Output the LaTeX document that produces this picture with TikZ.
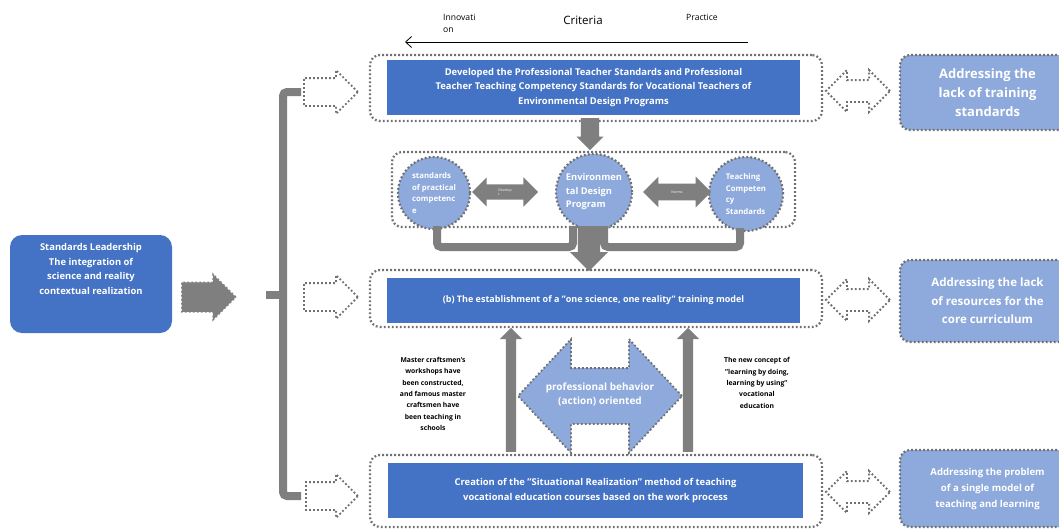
\documentclass[tikz,border=0pt]{standalone}
\usepackage{fontspec}
\setmainfont{Open Sans}
\usetikzlibrary{shapes.arrows,shapes.geometric,arrows.meta}
\definecolor{mainblue}{HTML}{4472C4}
\definecolor{lightblue}{HTML}{8EA9DB}
\definecolor{arrgray}{HTML}{7F7F7F}
\definecolor{dotgray}{HTML}{707070}
\begin{document}
\begin{tikzpicture}[x=1pt,y=-1pt,
  dotline/.style={draw=dotgray, line width=2.2pt, dash pattern=on 1.8pt off 2.2pt},
  frame/.style={dotline, rounded corners=10pt, inner sep=0pt},
  bluebox/.style={fill=mainblue, text=white, align=center, inner sep=0pt},
  circ/.style={circle, fill=lightblue, dotline, text=white, align=left, inner sep=0pt, font=\bfseries\fontsize{7.8}{11.5}\selectfont},
  hollowarrow/.style={single arrow, dotline, line width=1.8pt, fill=white, inner xsep=0pt, inner ysep=13pt, single arrow head extend=8pt, single arrow tip angle=90, anchor=tail},
  hollowdouble/.style={double arrow, dotline, line width=1.8pt, fill=white, inner xsep=0pt, inner ysep=10pt, double arrow head extend=10pt, double arrow tip angle=90},
  grayarrow/.style={single arrow, fill=arrgray, draw=none, inner xsep=0pt, single arrow tip angle=90, anchor=tail},
  graydouble/.style={double arrow, fill=arrgray, draw=none, inner xsep=0pt, double arrow tip angle=90},
  brack/.style={draw=arrgray, line width=8pt, rounded corners=4pt},
  sidebox/.style={rectangle, rounded corners=10pt, fill=lightblue, dotline, text=white, align=center, inner sep=0pt},
  smalltext/.style={align=center, text=black, font=\bfseries\fontsize{6.8}{11.4}\selectfont, inner sep=0pt}
]
\useasboundingbox (0,0) rectangle (1059,530);
\begin{scope}
\clip (0,0) rectangle (1059,530);
\fill[white] (0,0) rectangle (1059,530);

% top labels
\node[anchor=west, align=left, inner sep=0pt, font=\fontsize{8.6}{12}\selectfont] (innov) at (443,23) {Innovati\\on};
\node[inner sep=0pt, font=\fontsize{11.5}{14}\selectfont] (crit) at (583,20) {Criteria};
\node[inner sep=0pt, font=\fontsize{8.6}{12}\selectfont] (prac) at (702,17) {Practice};
\coordinate (aR) at (748,42);
\coordinate (aL) at (405,42);
\draw[line width=0.8pt, -{Straight Barb[length=6pt,width=11pt]}] (aR) -- (aL);

% frame 1
\node[frame, minimum width=452pt, minimum height=66pt] (f1) at (596,88) {};
\node[bluebox, minimum width=413pt, minimum height=55pt, font=\bfseries\fontsize{9.4}{14.5}\selectfont] (b1) at (593.5,87.5)
  {Developed the Professional Teacher Standards and Professional\\Teacher Teaching Competency Standards for Vocational Teachers of\\Environmental Design Programs};

% down arrow 1
\node[grayarrow, rotate=-90, minimum height=32pt, inner ysep=9pt, single arrow head extend=4.5pt] (d1) at (590,118) {};

% frame 2 with circles
\node[frame, minimum width=403pt, minimum height=75pt] (f2) at (593.5,189.5) {};
\node[circ, minimum size=72pt] (cL) at (434,193) {standards\\of practical\\competenc\\e};
\node[circ, minimum size=76pt, font=\bfseries\fontsize{9.3}{13.5}\selectfont] (cM) at (594,192) {Environmen\\tal Design\\Program};
\node[circ, minimum size=74pt] (cR) at (746,194) {Teaching\\Competen\\cy\\Standards};
\node[graydouble, minimum height=66pt, inner ysep=4pt, double arrow head extend=7pt, font=\fontsize{3.5}{4}\selectfont, text=white, align=left] (dL) at (505,192) {Develop\\t};
\node[graydouble, minimum height=68pt, inner ysep=7pt, double arrow head extend=7pt, font=\fontsize{3.5}{4}\selectfont, text=white] (dR) at (677,192) {Norms};

% brackets below circles
\coordinate (bl1) at (437,226);
\coordinate (bl2) at (437,247);
\coordinate (bl3) at (573,247);
\coordinate (bl4) at (573,226);
\coordinate (br1) at (604,226);
\coordinate (br2) at (604,247);
\coordinate (br3) at (740,247);
\coordinate (br4) at (740,228);
\draw[brack] (bl1) -- (bl2) -- (bl3) -- (bl4);
\draw[brack] (br1) -- (br2) -- (br3) -- (br4);

% big down arrow
\node[grayarrow, rotate=-90, minimum height=45pt, inner ysep=11pt, single arrow head extend=8pt] (d2) at (589,226) {};

% frame 3
\node[frame, minimum width=452pt, minimum height=57pt] (f3) at (596,298.5) {};
\node[bluebox, minimum width=413pt, minimum height=45pt, font=\bfseries\fontsize{9}{12}\selectfont] (b3) at (593.5,300.5)
  {(b) The establishment of a "one science, one reality" training model};

% up arrows
\node[grayarrow, rotate=90, minimum height=124pt, inner ysep=5pt, single arrow head extend=6pt] (uL) at (511,452) {};
\node[grayarrow, rotate=90, minimum height=124pt, inner ysep=5pt, single arrow head extend=6pt] (uR) at (688,452) {};

% big double arrow
\node[double arrow, fill=lightblue, dotline, line width=1.8pt, minimum height=164pt, inner xsep=0pt, inner ysep=27pt, double arrow head extend=29pt, double arrow tip angle=94] (big) at (600,396) {};
\node[text=white, align=center, inner sep=0pt, font=\bfseries\fontsize{10}{14}\selectfont] (bigt) at (600,394) {professional behavior\\(action) oriented};

% side texts
\node[smalltext] (tL) at (433,394) {Master craftsmen's\\workshops have\\been constructed,\\and famous master\\craftsmen have\\been teaching in\\schools};
\node[smalltext] (tR) at (757,383) {The new concept of\\"learning by doing,\\learning by using"\\vocational\\education};

% frame 4
\node[frame, minimum width=452pt, minimum height=72pt] (f4) at (596,491) {};
\node[bluebox, minimum width=415pt, minimum height=55pt, font=\bfseries\fontsize{9.4}{15}\selectfont] (b4) at (595.5,490.5)
  {Creation of the "Situational Realization" method of teaching\\vocational education courses based on the work process};

% left box
\node[rectangle, rounded corners=12pt, fill=mainblue, minimum width=162pt, minimum height=98pt, inner sep=0pt] (lb) at (91,284) {};
\node[anchor=north, text=white, align=center, inner sep=0pt, font=\bfseries\fontsize{9.4}{14.8}\selectfont] (lbt) at (91,243)
  {Standards Leadership\\The integration of\\science and reality\\contextual realization};
\node[grayarrow, dotline, line width=1.5pt, draw=arrgray, minimum height=54pt, inner ysep=14pt, single arrow head extend=8pt] (ga) at (181,297) {};

% bracket
\coordinate (k1) at (301,92);
\coordinate (k2) at (283,92);
\coordinate (k3) at (283,496);
\coordinate (k4) at (301,496);
\coordinate (ks1) at (266,295);
\coordinate (ks2) at (283,295);
\draw[brack] (k1) -- (k2) -- (k3) -- (k4);
\draw[draw=arrgray, line width=8pt] (ks1) -- (ks2);

% hollow arrows
\node[hollowarrow, minimum height=54pt] (h1) at (303,92) {};
\node[hollowarrow, minimum height=54pt] (h2) at (303,297) {};
\node[hollowarrow, minimum height=52pt] (h3) at (305,496) {};

% right hollow double arrows
\node[hollowdouble, minimum height=64pt] (r1) at (858,91) {};
\node[hollowdouble, minimum height=64pt] (r2) at (858,300) {};
\node[hollowdouble, minimum height=64pt] (r3) at (858,492) {};

% right boxes
\node[sidebox, minimum width=175pt, minimum height=75pt, font=\bfseries\fontsize{13}{19}\selectfont] (s1) at (987.5,92.5) {Addressing the\\lack of training\\standards};
\node[sidebox, minimum width=175pt, minimum height=82pt, font=\bfseries\fontsize{11.5}{18.5}\selectfont] (s2) at (987.5,301) {Addressing the lack\\of resources for the\\core curriculum};
\node[sidebox, minimum width=175pt, minimum height=77pt, font=\bfseries\fontsize{9.6}{16}\selectfont] (s3) at (987.5,488.5) {Addressing the problem\\of a single model of\\teaching and learning};
\end{scope}
\end{tikzpicture}
\end{document}
